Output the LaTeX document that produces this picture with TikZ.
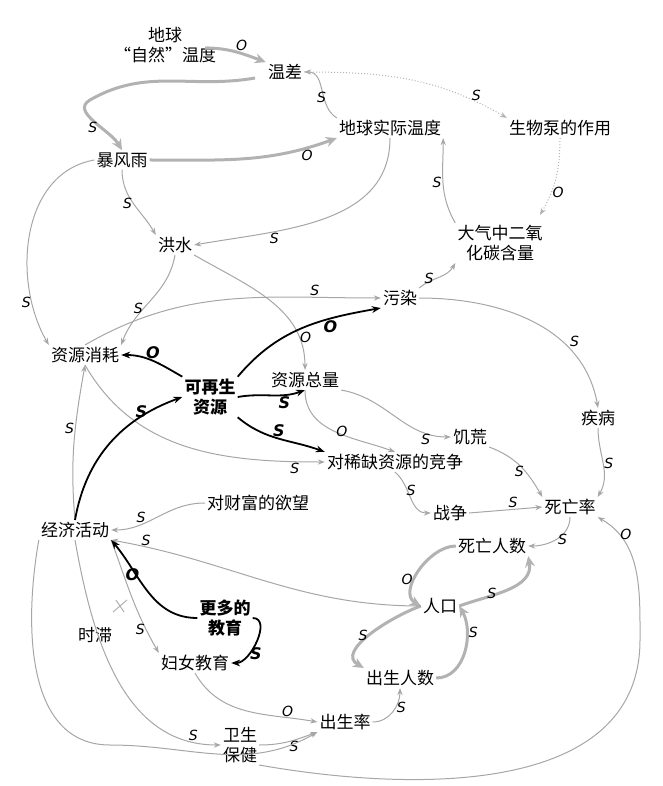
\documentclass[tikz,border=0pt]{standalone}
\usepackage{fontspec}
\setmainfont{Noto Sans CJK SC}
\newfontfamily\lat{DejaVu Sans}
\usetikzlibrary{arrows.meta}
\begin{document}
\begin{tikzpicture}[x=1pt,y=-1pt,
  n/.style={font=\fontsize{17}{20}\selectfont,align=center,inner sep=2pt},
  b/.style={n,font=\fontsize{17}{20}\selectfont\bfseries},
  ar/.style={draw=gray!70,line width=1pt,-{Stealth[length=7pt]}},
  thk/.style={draw=gray!60,line width=3pt,-{Stealth[length=11pt,width=10pt]}},
  blk/.style={draw=black,line width=1.8pt,-{Stealth[length=9pt]}},
  dot/.style={draw=gray!60,line width=1pt,dotted,-{Stealth[length=7pt]}},
  l/.style={font=\lat\fontsize{14}{14}\selectfont\itshape,inner sep=1pt},
  bl/.style={l,font=\lat\fontsize{16}{16}\selectfont\itshape\bfseries}]
\useasboundingbox (0,0) rectangle (662,786);
\node[n] (nt) at (165,45) {地球\\“自然”温度};
\node[n] (wc) at (285,72) {温差};
\node[n] (bp) at (560,128) {生物泵的作用};
\node[n] (at) at (390,128) {地球实际温度};
\node[n] (by) at (122,160) {暴风雨};
\node[n] (co) at (500,243) {大气中二氧\\化碳含量};
\node[n] (hs) at (175,245) {洪水};
\node[n] (wr) at (400,298) {污染};
\node[n] (zx) at (85,355) {资源消耗};
\node[b] (kz) at (210,397) {可再生\\资源};
\node[n] (zl) at (305,380) {资源总量};
\node[n] (jb) at (598,418) {疾病};
\node[n] (jh) at (470,437) {饥荒};
\node[n] (jz) at (395,462) {对稀缺资源的竞争};
\node[n] (yw) at (258,503) {对财富的欲望};
\node[n] (jj) at (75,530) {经济活动};
\node[n] (zz) at (450,513) {战争};
\node[n] (sw) at (570,507) {死亡率};
\node[n] (sr) at (492,546) {死亡人数};
\node[n] (rk) at (440,606) {人口};
\node[n] (sz) at (95,635) {时滞};
\node[b] (gd) at (225,618) {更多的\\教育};
\node[n] (fn) at (195,663) {妇女教育};
\node[n] (cs) at (400,678) {出生人数};
\node[n] (cl) at (345,722) {出生率};
\node[n] (ws) at (240,745) {卫生\\保健};

\draw[thk] (205,48) to[out=0,in=160] node[pos=.6,above,l]{O} (wc.north west);
\draw[ar] (at.north west) to[out=150,in=0] node[pos=.5,below,l]{S} (wc.east);
\draw[dot] (wc.east) to[out=0,in=150] node[pos=.85,above,l]{S} (bp.north west);
\draw[dot] (bp.south) to[out=-90,in=60] node[pos=.7,right,l]{O} (540,215);
\draw[ar] (co.north west) to[out=120,in=-90] node[pos=.5,left,l]{S} (at.south east);
\draw[thk] (255,78) to[out=190,in=30] (90,100) to[out=210,in=120] node[pos=.6,left,l]{S} (by.north);
\draw[thk] (by.east) to[out=0,in=200] node[pos=.85,below,l]{O} (at.south west);
\draw[ar] (at.south) to[out=-90,in=10] node[pos=.7,below,l]{S} (hs.east);
\draw[ar] (by.south) to[out=-90,in=120] node[pos=.5,left,l]{S} (hs.north west);
\draw[ar] (by.west) to[out=190,in=120] node[pos=.8,left,l]{S} (zx.north west);
\draw[ar] (hs.south) to[out=-100,in=70] node[pos=.6,left,l]{S} (zx.north east);
\draw[ar] (hs.south east) to[out=-30,in=90] node[pos=.8,right,l]{O} (zl.north);
\draw[ar] (zx.north) to[out=30,in=180] node[pos=.8,above,l]{S} (wr.west);
\draw[ar] (wr.north east) to[out=40,in=-120] node[pos=.4,left,l]{S} (co.south west);
\draw[ar] (wr.east) to[out=0,in=100] node[pos=.7,above right,l]{S} (jb.north);
\draw[ar] (jb.south) to[out=-90,in=60] node[pos=.5,right,l]{S} (sw.north east);
\draw[blk] (kz.north west) to[out=150,in=0] node[pos=.5,above,bl]{O} (zx.east);
\draw[blk] (kz.north east) to[out=50,in=190] node[pos=.7,below,bl]{O} (wr.south west);
\draw[blk] (kz.east) to[out=10,in=200] node[pos=.7,below,bl]{S} (zl.south);
\draw[blk] (kz.south east) to[out=-40,in=160] node[pos=.5,above,bl]{S} (jz.north west);
\draw[ar] (zl.south) to[out=-90,in=160] node[pos=.5,right,l]{O} (jz.north);
\draw[ar] (zl.south east) to[out=-10,in=180] node[pos=.8,below,l]{S} (jh.west);
\draw[ar] (zx.south) to[out=-60,in=180] node[pos=.9,below,l]{S} (jz.west);
\draw[ar] (jz.south) to[out=-40,in=180] node[pos=.5,above,l]{S} (zz.west);
\draw[ar] (jh.south east) to[out=-20,in=120] node[pos=.6,left,l]{S} (sw.north west);
\draw[ar] (zz.east) -- node[pos=.6,above,l]{S} (sw.west);
\draw[ar] (sw.south) to[out=-90,in=0] node[pos=.5,right,l]{S} (sr.east);
\draw[thk] (sr.west) to[out=180,in=150] node[pos=.6,left,l]{O} (rk.west);
\draw[thk] (rk.east) to[out=20,in=-80] node[pos=.4,left,l]{S} (sr.south east);
\draw[thk] (rk.west) to[out=200,in=150] node[pos=.5,left,l]{S} (cs.north west);
\draw[thk] (cs.east) to[out=0,in=-60] node[pos=.7,right,l]{S} (rk.east);
\draw[ar] (cl.east) to[out=0,in=-90] node[pos=.6,right,l]{S} (cs.south);
\draw[ar] (fn.south) to[out=-60,in=170] node[pos=.8,above,l]{O} (cl.west);
\draw[ar] (ws.east) to[out=0,in=200] node[pos=.6,below,l]{S} (cl.south west);
\draw[ar] (jj.south) to[out=-80,in=180] node[pos=.9,above,l]{S} (ws.west);
\draw[ar] (jj.south east) to[out=-70,in=120] node[pos=.8,left,l]{S} (fn.north west);
\draw[ar] (jj.north) to[out=95,in=-100] node[pos=.6,left,l]{S} (zx.south);
\draw[blk] (jj.north) to[out=80,in=200] node[pos=.8,left,bl]{S} (kz.west);
\draw[ar] (yw.west) to[out=180,in=0] node[pos=.7,above,l]{S} (jj.east);
\draw[ar] (rk.west) to[out=180,in=-10] node[pos=.9,above,l]{S} (jj.south east);
\draw[blk] (gd.east) to[out=0,in=0] node[pos=.7,right,bl]{S} (fn.east);
\draw[blk] (gd.west) to[out=180,in=-50] node[pos=.6,above left,bl]{O} (jj.south east);
\draw[ar] (jj.south west) to[out=-100,in=180] (110,745) to[out=0,in=210] (cl.south west);
\draw[ar] (ws.south east) to[out=-10,in=-90] (640,640) to[out=90,in=-30] node[pos=.8,right,l]{O} (sw.south east);
\draw[gray!60,line width=1pt] (113,612)--(127,600) (116,600)--(124,612);
\end{tikzpicture}
\end{document}
